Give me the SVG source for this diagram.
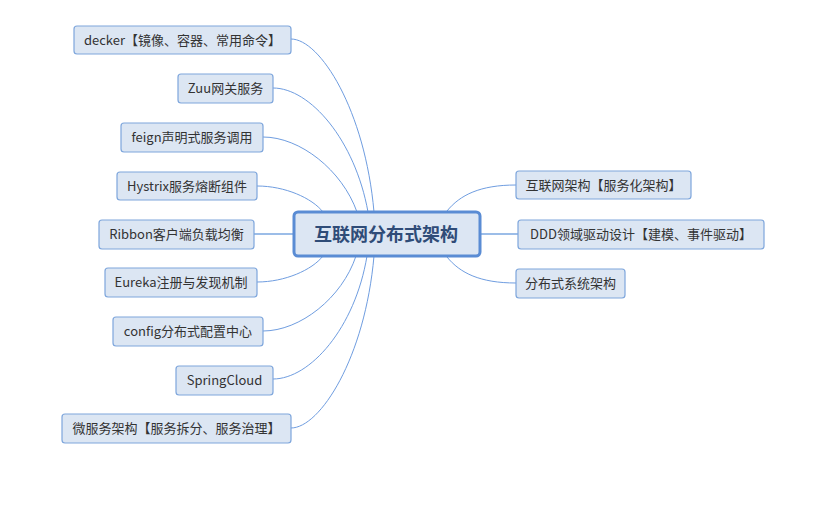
<svg xmlns="http://www.w3.org/2000/svg" width="825" height="507" viewBox="0 0 825 507">
<style>
.n rect{fill:#dce6f3;stroke:#7ea6dc;stroke-width:1.2}
.n text{font-family:"Noto Sans CJK SC","Microsoft YaHei",sans-serif;font-size:13px;fill:#333;text-anchor:middle}
.c path{fill:none;stroke:#6f9de0;stroke-width:1}
.c line{stroke:#9cbde8;stroke-width:2}
#root rect{fill:#dce6f3;stroke:#5a8cd4;stroke-width:3}
#root text{font-family:"Noto Sans CJK SC","Microsoft YaHei",sans-serif;font-size:18px;font-weight:bold;fill:#2f4c78;text-anchor:middle}
</style>
<rect width="825" height="507" fill="#fff"/>
<g id="connectors" class="c">
<path d="M291,39 C320,39 365,110 374,212"/>
<path d="M273,88 C310,88 355,140 368,212"/>
<path d="M263,137 C300,137 342,170 357,212"/>
<path d="M257,186 C285,186 312,198 323,212"/>
<line x1="254" y1="234" x2="293" y2="234"/>
<path d="M257,282 C285,282 312,270 323,256"/>
<path d="M263,331 C300,331 342,298 356,256"/>
<path d="M273,379 C310,379 355,328 367,256"/>
<path d="M291,428 C320,428 365,358 374,256"/>
<path d="M447,211 C460,195 480,185 516,185"/>
<line x1="480" y1="234" x2="518" y2="234"/>
<path d="M447,257 C460,273 480,283 516,283"/>
</g>
<g id="root"><rect x="294" y="212" width="186" height="44" rx="4"/><text x="386" y="240.5">互联网分布式架构</text></g>
<g id="n1" class="n"><rect x="74" y="26" width="217" height="28" rx="3"/><text x="182.5" y="44.5">decker【镜像、容器、常用命令】</text></g>
<g id="n2" class="n"><rect x="178" y="74" width="95" height="29" rx="3"/><text x="225.5" y="93">Zuu网关服务</text></g>
<g id="n3" class="n"><rect x="121" y="123" width="142" height="29" rx="3"/><text x="192" y="142">feign声明式服务调用</text></g>
<g id="n4" class="n"><rect x="117" y="172" width="140" height="28" rx="3"/><text x="187" y="190.5">Hystrix服务熔断组件</text></g>
<g id="n5" class="n"><rect x="99" y="220" width="155" height="29" rx="3"/><text x="176.5" y="239">Ribbon客户端负载均衡</text></g>
<g id="n6" class="n"><rect x="105" y="268" width="152" height="29" rx="3"/><text x="181" y="287">Eureka注册与发现机制</text></g>
<g id="n7" class="n"><rect x="113" y="317" width="150" height="29" rx="3"/><text x="188" y="336">config分布式配置中心</text></g>
<g id="n8" class="n"><rect x="176" y="366" width="97" height="29" rx="3"/><text x="224.5" y="385">SpringCloud</text></g>
<g id="n9" class="n"><rect x="62" y="414" width="229" height="29" rx="3"/><text x="176.5" y="433">微服务架构【服务拆分、服务治理】</text></g>
<g id="n10" class="n"><rect x="516" y="171" width="175" height="28" rx="3"/><text x="603.5" y="189.5">互联网架构【服务化架构】</text></g>
<g id="n11" class="n"><rect x="518" y="220" width="246" height="29" rx="3"/><text x="641" y="239">DDD领域驱动设计【建模、事件驱动】</text></g>
<g id="n12" class="n"><rect x="516" y="269" width="109" height="29" rx="3"/><text x="570.5" y="288">分布式系统架构</text></g>
</svg>
